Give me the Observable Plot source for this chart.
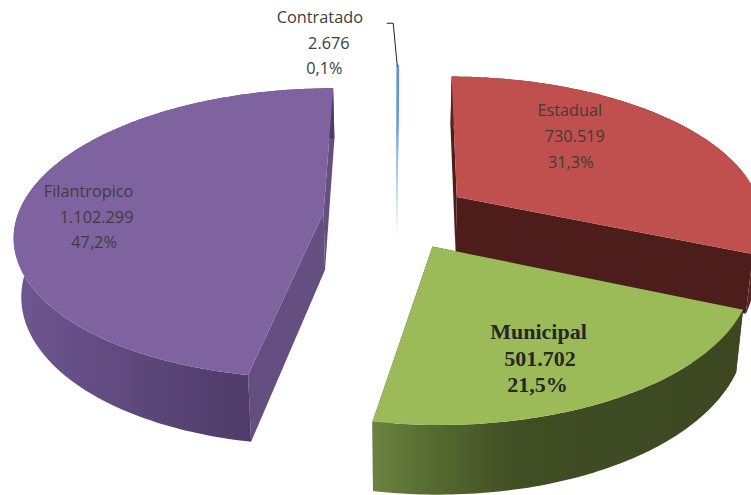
<!DOCTYPE html>
<html>
<head>
<meta charset="utf-8">
<script src="https://cdn.jsdelivr.net/npm/d3@7"></script>
<script src="https://cdn.jsdelivr.net/npm/@observablehq/plot@0.6"></script>
<style>html,body{margin:0;padding:0;background:#fff}svg{display:block}</style>
</head>
<body>
<div id="chart"></div>
<script>
const categories = ["Estadual", "Municipal", "Filantropico", "Contratado"];
const values = [730519, 501702, 1102299, 2676];
const valueLabels = ["730.519", "501.702", "1.102.299", "2.676"];
const shareLabels = ["31,3%", "21,5%", "47,2%", "0,1%"];

// 3D pie camera
const cam = {cx: 396, cy: 215, A: 306, B: 142.8, k: 0.144, explode: 0.24, depth: 57.5, shrink: 0.02, rotation: 0.0087};

const arcs = d3.pie().sort(null).startAngle(cam.rotation).endAngle(2 * Math.PI + cam.rotation)(values);

function pt(arc, theta, level, r = 1) {
  const mid = (arc.startAngle + arc.endAngle) / 2;
  const X = cam.explode * Math.sin(mid) + r * Math.sin(theta);
  const Z = cam.explode * Math.cos(mid) + r * Math.cos(theta);
  const w = 1 + cam.k * Z;
  let x = cam.cx + cam.A * X / w;
  let y = cam.cy - cam.B * Z / w;
  if (level) {
    x = cam.cx + (x - cam.cx) * (1 - cam.shrink);
    y += cam.depth / w;
  }
  return {x, y};
}
function arcPts(arc, level) {
  const n = Math.max(2, Math.ceil((arc.endAngle - arc.startAngle) * 60));
  return d3.range(n + 1).map(i => pt(arc, arc.startAngle + (arc.endAngle - arc.startAngle) * i / n, level));
}
const apex = (arc, level) => pt(arc, 0, level, 0);
const topFace = arc => [apex(arc, 0), ...arcPts(arc, 0)];
const outerWall = arc => [...arcPts(arc, 0), ...arcPts(arc, 1).reverse()];
const radialWall = (arc, theta) => [apex(arc, 0), pt(arc, theta, 0), pt(arc, theta, 1), apex(arc, 1)];

const colors = [
  {top: "#bf504d", start: "#4c1d1b", end: "#4c1d1b", wall: "#5a2220"},
  {top: "#9bbb59", start: "#3f4b22", end: "#3f4b22", wall: "url(#greenWall)"},
  {top: "#7f63a1", start: "#644f80", end: "#644f80", wall: "url(#purpleWall)"},
  {top: "url(#blue)", start: "url(#blue)", end: "url(#blue)", wall: "url(#blue)"}
];

function poly(pts, fill, extra = {}) {
  return Plot.line(pts, {x: "x", y: "y", fill, stroke: "none", ...extra});
}
function sliceMarks(i) {
  const a = arcs[i], c = colors[i];
  return [
    poly(radialWall(a, a.endAngle), c.end),
    poly(radialWall(a, a.startAngle), c.start),
    poly(outerWall(a), c.wall),
    poly(topFace(a), c.top)
  ];
}

function defs() {
  const svg = d3.create("svg:defs");
  const grad = (id, x1, y1, x2, y2, stops) => {
    const g = svg.append("linearGradient").attr("id", id).attr("gradientUnits", "userSpaceOnUse")
      .attr("x1", x1).attr("y1", y1).attr("x2", x2).attr("y2", y2);
    stops.forEach(([o, col]) => g.append("stop").attr("offset", o).attr("stop-color", col));
  };
  grad("greenWall", 375, 0, 745, 0, [[0, "#6b8140"], [0.15, "#566b30"], [0.38, "#414e24"], [1, "#3c4720"]]);
  grad("purpleWall", 15, 0, 250, 0, [[0, "#6f5692"], [0.4, "#614b80"], [1, "#4e3b68"]]);
  grad("blue", 0, 65, 0, 238, [[0, "#5b93cf"], [0.36, "#6d9fd6"], [0.62, "#a9c6e6"], [1, "#ffffff"]]);
  return svg.node();
}

// Label lines: [slice, line text, offset from the slice apex to the line's centre and baseline]
const labelStyle = {fontFamily: "'Open Sans'", fontSize: 16.3, fill: "#3f3c3c"};
const boldStyle = {fontFamily: "'Liberation Serif'", fontSize: 22, fontWeight: "bold", fill: "#262626"};
const labelLines = [
  [2, categories[2], -235, -15], [2, valueLabels[2], -227, 11], [2, shareLabels[2], -229.5, 36],
  [0, categories[0], 113, -81], [0, valueLabels[0], 118, -55], [0, shareLabels[0], 114, -29],
  [3, categories[3], -77, -159], [3, valueLabels[3], -68, -133], [3, shareLabels[3], -72.5, -108],
  [1, categories[1], 106, 92], [1, valueLabels[1], 107.5, 119], [1, shareLabels[1], 105, 145]
];
const textMark = (i, style) => Plot.text(labelLines.filter(d => (d[0] === 1) === (style === boldStyle)), {
  x: d => apex(arcs[d[0]], 0).x + d[2],
  y: d => apex(arcs[d[0]], 0).y + d[3],
  text: d => d[1],
  textAnchor: "middle",
  lineAnchor: "bottom",
  ...style
});

// Leader from the Contratado tip up to its label
const tip = pt(arcs[3], arcs[3].startAngle, 0);
const leader = [{x: tip.x - 10, y: tip.y - 42}, {x: tip.x - 4, y: tip.y - 42}, tip];

const plot = Plot.plot({
  width: 751,
  height: 495,
  margin: 0,
  x: {domain: [0, 751], range: [0, 751], axis: null},
  y: {domain: [0, 495], range: [0, 495], axis: null},
  style: {background: "#fff"},
  marks: [
    defs,
    ...sliceMarks(0),
    Plot.line([pt(arcs[3], arcs[3].startAngle, 0), apex(arcs[3], 0), apex(arcs[3], 1)], {x: "x", y: "y", stroke: "url(#blue)", strokeWidth: 1.6}),
    ...sliceMarks(3),
    ...sliceMarks(2),
    ...sliceMarks(1),
    Plot.line(leader, {x: "x", y: "y", stroke: "#222", strokeWidth: 1}),
    textMark(0, labelStyle),
    textMark(0, boldStyle)
  ]
});
document.getElementById("chart").append(plot);
</script>
</body>
</html>
